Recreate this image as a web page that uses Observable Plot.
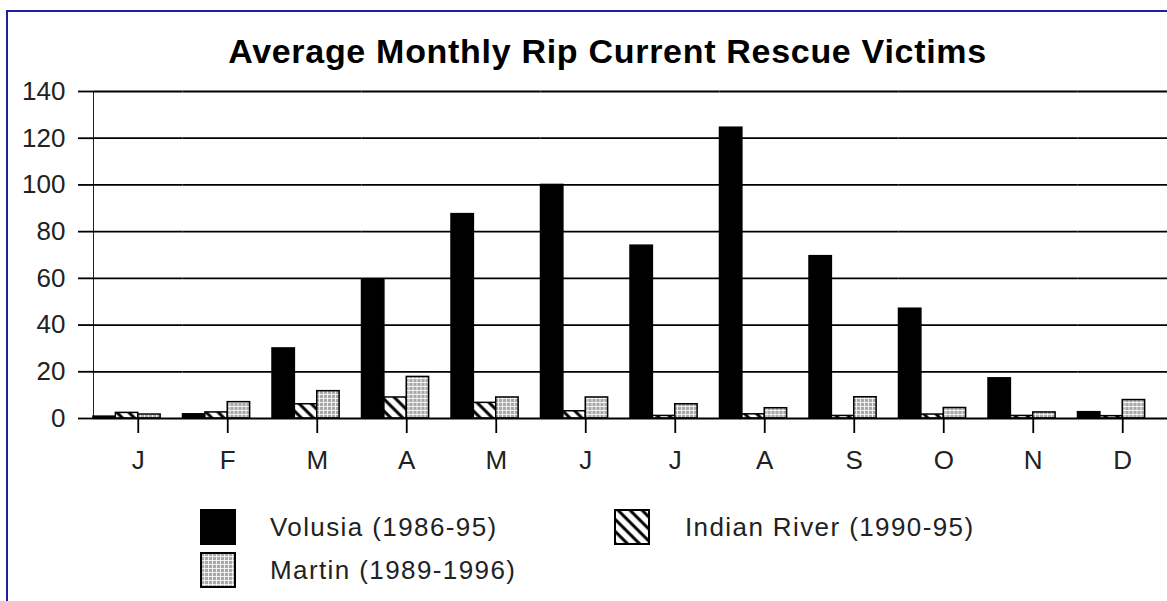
<!DOCTYPE html>
<html>
<head>
<meta charset="utf-8">
<script src="https://cdn.jsdelivr.net/npm/d3@7"></script>
<script src="https://cdn.jsdelivr.net/npm/@observablehq/plot@0.6"></script>
<style>
  html, body { margin: 0; padding: 0; background: #fff; overflow: hidden; }
  #page { position: relative; width: 1167px; height: 601px; background: #fff; overflow: hidden;
          font-family: "Liberation Sans", Arial, sans-serif; color: #111; }
  #border { position: absolute; left: 6px; top: 10px; width: 1200px; height: 640px;
            border-left: 2px solid #1f1fa0; border-top: 2px solid #1f1fa0; }
  #title { position: absolute; left: 0; top: 34px; width: 1167px; padding-left: 48px; box-sizing: border-box;
           text-align: center; font-weight: bold; font-size: 34px; line-height: 34px; letter-spacing: 0.7px; color: #000; }
  #chart { position: absolute; left: 0; top: 70px; }
  #chart svg [aria-label^="y-axis"] line, #chart svg [aria-label^="y-axis"] path,
  #chart svg [aria-label^="fx-axis"] line, #chart svg [aria-label^="fx-axis"] path { stroke-width: 1.8px; stroke: #000; }
  .lg-swatch { position: absolute; width: 36px; height: 36px; }
  .lg-text { position: absolute; font-size: 26px; line-height: 26px; letter-spacing: 1.4px; color: #222; white-space: nowrap; }
</style>
</head>
<body>
<svg width="0" height="0" style="position:absolute">
  <defs>
    <pattern id="pat-v" patternUnits="userSpaceOnUse" width="4" height="4">
      <rect width="4" height="4" fill="#000"/>
    </pattern>
    <pattern id="pat-i" patternUnits="userSpaceOnUse" width="8.5" height="8.5" patternTransform="rotate(-45)">
      <rect width="8.5" height="8.5" fill="#fff"/>
      <line x1="2" y1="0" x2="2" y2="8.5" stroke="#000" stroke-width="3"/>
    </pattern>
    <pattern id="pat-m" patternUnits="userSpaceOnUse" width="4" height="4">
      <rect width="4" height="4" fill="#a8a8a8"/>
      <rect x="0" y="0" width="4" height="1" fill="#fff" fill-opacity="0.8"/>
      <rect x="0" y="0" width="1" height="4" fill="#fff" fill-opacity="0.8"/>
    </pattern>
  </defs>
</svg>
<div id="page">
  <div id="border"></div>
  <div id="title">Average Monthly Rip Current Rescue Victims</div>
  <div id="chart"></div>
  <div id="legend"></div>
</div>
<script>
// ---- data ----
const months = ["Jan","Feb","Mar","Apr","May","Jun","Jul","Aug","Sep","Oct","Nov","Dec"];
const monthLabels = ["J","F","M","A","M","J","J","A","S","O","N","D"];
const seriesNames = ["Volusia (1986-95)", "Indian River (1990-95)", "Martin (1989-1996)"];
const volusia = [0.8, 1.8, 30, 59.5, 87.5, 100, 74, 124.5, 69.5, 47, 17.2, 2.7];
const indianRiver = [2.4, 2.6, 6.1, 9, 6.7, 3.1, 1.1, 1.8, 1.1, 1.7, 1.1, 1];
const martin = [1.7, 7, 11.7, 17.8, 9, 9, 6.1, 4.4, 9.1, 4.5, 2.6, 7.9];
const yTicks = [0, 20, 40, 60, 80, 100, 120, 140];
const seriesFills = ["url(#pat-v)", "url(#pat-i)", "url(#pat-m)"];

const seriesValues = [volusia, indianRiver, martin];
const rows = months.flatMap((m, i) =>
  seriesNames.map((s, k) => ({month: m, series: s, value: seriesValues[k][i]})));

const chart = Plot.plot({
  width: 1167,
  height: 420,
  marginLeft: 93,
  marginRight: 0,
  marginTop: 21,
  marginBottom: 72,
  style: {fontFamily: "Liberation Sans, Arial, sans-serif", fontSize: "26px", color: "#222", background: "transparent"},
  facet: {data: rows, x: "month"},
  fx: {domain: months, padding: 0, round: false, label: null, tickSize: 15, tickPadding: 17,
       tickFormat: d => monthLabels[months.indexOf(d)]},
  x: {domain: [...seriesNames, "gap"], padding: 0, round: false, axis: null},
  y: {domain: [0, 140], ticks: yTicks, tickSize: 15, tickPadding: 13, label: null, line: true},
  color: {domain: seriesNames, range: seriesFills},
  marks: [
    Plot.ruleY(yTicks.slice(1), {stroke: "#000", strokeWidth: 1.8}),
    Plot.barY(rows, {x: "series", y: "value", fill: "series", stroke: "#000", strokeWidth: 1.5}),
    Plot.ruleY([0], {stroke: "#000", strokeWidth: 2.2})
  ]
});
document.getElementById("chart").appendChild(chart);

// ---- legend ----
const legend = document.getElementById("legend");
const legendPos = [
  {sx: 200, sy: 509, tx: 270, ty: 514},
  {sx: 614, sy: 509, tx: 685, ty: 514},
  {sx: 200, sy: 552, tx: 270, ty: 557}
];
seriesNames.forEach((name, k) => {
  const p = legendPos[k];
  const sw = document.createElement("div");
  sw.className = "lg-swatch";
  sw.style.left = p.sx + "px";
  sw.style.top = p.sy + "px";
  sw.innerHTML = `<svg width="36" height="36"><rect x="1" y="1" width="34" height="34" fill="${seriesFills[k]}" stroke="#000" stroke-width="2"/></svg>`;
  legend.appendChild(sw);
  const tx = document.createElement("div");
  tx.className = "lg-text";
  tx.style.left = p.tx + "px";
  tx.style.top = p.ty + "px";
  tx.textContent = name;
  legend.appendChild(tx);
});
</script>
</body>
</html>
